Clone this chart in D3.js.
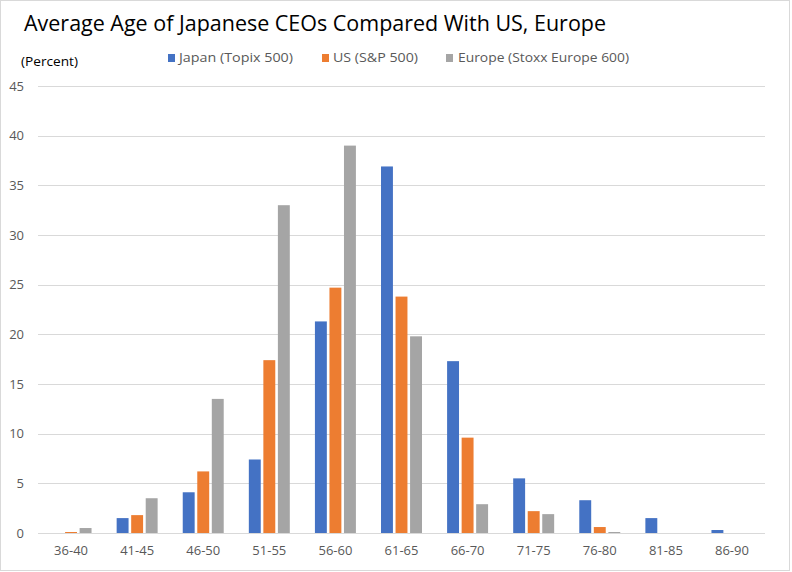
<!DOCTYPE html>
<html>
<head>
<meta charset="utf-8">
<script src="https://cdn.jsdelivr.net/npm/d3@7"></script>
<style>
  html, body { margin: 0; padding: 0; background: #fff; }
  svg { display: block; }
  text { font-family: "Open Sans", "Noto Sans", sans-serif; }
</style>
</head>
<body>
<svg id="chart" width="792" height="572"></svg>
<script>
const categories = ["36-40","41-45","46-50","51-55","56-60","61-65","66-70","71-75","76-80","81-85","86-90"];
const seriesNames = ["Japan (Topix 500)", "US (S&P 500)", "Europe (Stoxx Europe 600)"];
const japan  = [0, 1.5, 4.1, 7.4, 21.3, 36.9, 17.3, 5.5, 3.3, 1.5, 0.3];
const us     = [0.1, 1.8, 6.2, 17.4, 24.7, 23.8, 9.6, 2.2, 0.6, 0, 0];
const europe = [0.5, 3.5, 13.5, 33.0, 39.0, 19.8, 2.9, 1.9, 0.1, 0, 0];
const yTicks = [0, 5, 10, 15, 20, 25, 30, 35, 40, 45];
const colors = ["#4472C4", "#ED7D31", "#A5A5A5"];

const seriesValues = [japan, us, europe];
const rows = categories.map((c, i) => ({cat: c, vals: seriesValues.map(s => s[i])}));

const svg = d3.select("#chart");
const W = 792, H = 572;

// outer border
svg.append("rect").attr("x", 0.5).attr("y", 0.5).attr("width", W - 3).attr("height", H - 2)
  .attr("fill", "#fff").attr("stroke", "#d9d9d9");

const mLeft = 38, mRight = 765, mTop = 86, mBottom = 533;

const x0 = d3.scaleBand().domain(categories).range([mLeft, mRight]).paddingInner(0.38).paddingOuter(0.19);
const x1 = d3.scaleBand().domain(d3.range(3)).range([0, x0.bandwidth()]).paddingInner(0.18);
const y = d3.scaleLinear().domain([0, 45]).range([mBottom, mTop]);

// gridlines
svg.append("g").selectAll("line").data(yTicks).join("line")
  .attr("x1", mLeft).attr("x2", mRight)
  .attr("y1", d => Math.round(y(d)) + 0.5).attr("y2", d => Math.round(y(d)) + 0.5)
  .attr("stroke", "#d9d9d9").attr("stroke-width", 1);

// y axis labels
const yAxis = d3.axisLeft(y).tickValues(yTicks).tickSize(0).tickPadding(0);
const ya = svg.append("g").attr("transform", `translate(${mLeft - 14},0)`).call(yAxis);
ya.select(".domain").remove();
ya.selectAll("text").attr("fill", "#595959").style("font-size", "13px")
  .style("font-family", '"Open Sans", sans-serif');

// bars
const groups = svg.append("g").selectAll("g").data(rows).join("g")
  .attr("transform", d => `translate(${x0(d.cat)},0)`);
groups.selectAll("rect").data(d => d.vals.map((v, i) => ({v, i}))).join("rect")
  .attr("x", d => x1(d.i))
  .attr("width", x1.bandwidth())
  .attr("y", d => y(d.v))
  .attr("height", d => y(0) - y(d.v))
  .attr("fill", d => colors[d.i]);

// x axis
const xAxis = d3.axisBottom(x0).tickSize(0).tickPadding(12);
const xa = svg.append("g").attr("transform", `translate(0,${mBottom + 0.5})`).call(xAxis);
xa.select(".domain").attr("stroke", "#d9d9d9").attr("d", `M${mLeft},0H${mRight}`);
xa.selectAll("text").attr("fill", "#595959").style("font-size", "13px")
  .style("font-family", '"Open Sans", sans-serif');

// title
svg.append("text").attr("x", 24).attr("y", 31)
  .attr("textLength", 582).attr("lengthAdjust", "spacingAndGlyphs")
  .attr("fill", "#000").style("font-size", "22px")
  .text("Average Age of Japanese CEOs Compared With US, Europe");

// unit label
svg.append("text").attr("x", 21).attr("y", 66)
  .attr("textLength", 57).attr("lengthAdjust", "spacingAndGlyphs")
  .attr("fill", "#000").style("font-size", "13px")
  .text("(Percent)");

// legend
const legendPos = [
  {sx: 168, tx: 179, tl: 114},
  {sx: 322, tx: 333, tl: 85},
  {sx: 446, tx: 458, tl: 171}
];
const lg = svg.append("g").selectAll("g").data(seriesNames).join("g");
lg.append("rect").attr("x", (d, i) => legendPos[i].sx).attr("y", 54)
  .attr("width", 7).attr("height", 8).attr("fill", (d, i) => colors[i]);
lg.append("text").attr("x", (d, i) => legendPos[i].tx).attr("y", 62)
  .attr("textLength", (d, i) => legendPos[i].tl).attr("lengthAdjust", "spacingAndGlyphs")
  .attr("fill", "#595959").style("font-size", "13px")
  .text(d => d);
</script>
</body>
</html>
